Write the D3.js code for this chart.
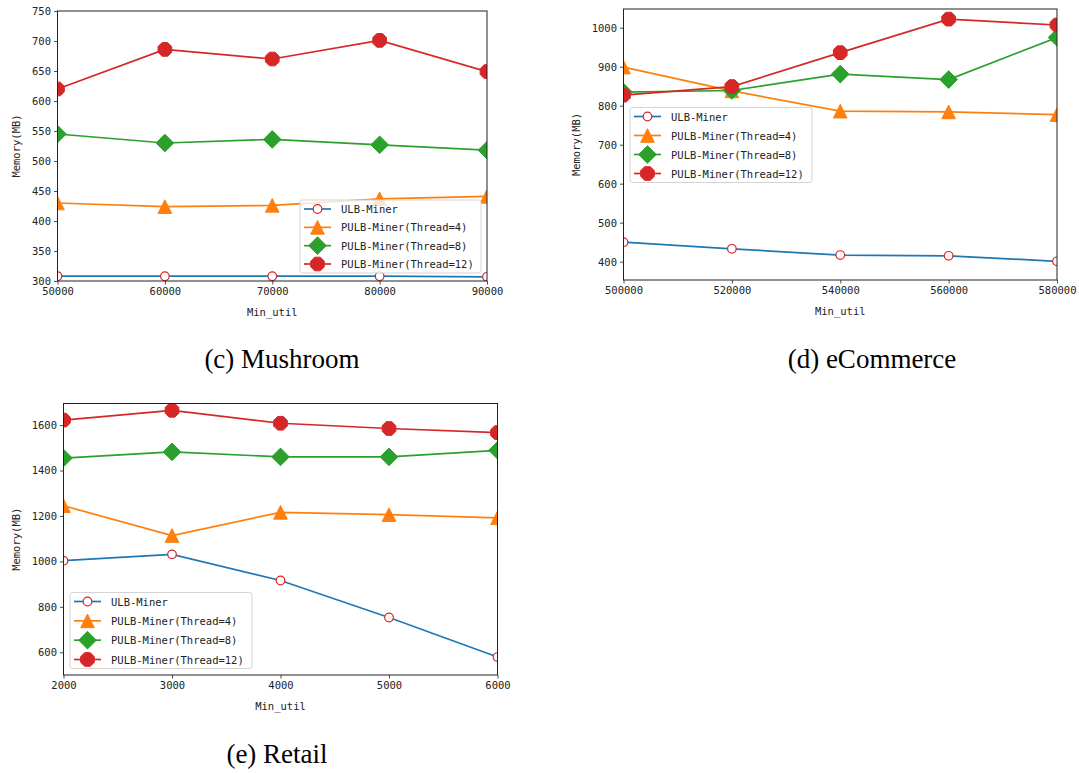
<!DOCTYPE html>
<html>
<head>
<meta charset="utf-8">
<script src="https://cdn.jsdelivr.net/npm/d3@7"></script>
<style>
  html, body { margin: 0; padding: 0; background: #fff; }
  svg { display: block; }
  .tick text { font-family: "DejaVu Sans Mono", monospace; font-size: 10.5px; fill: #222; }
  .axis-label { font-family: "DejaVu Sans Mono", monospace; font-size: 10.5px; fill: #222; }
  .legend-text { font-family: "DejaVu Sans Mono", monospace; font-size: 10.5px; fill: #222; }
  .caption { font-family: "Liberation Serif", "Times New Roman", serif; font-size: 27px; fill: #000; }
</style>
</head>
<body>
<svg id="chart" width="1079" height="773"></svg>
<script>
// Series shared by all three panels
const seriesNames = ["ULB-Miner", "PULB-Miner(Thread=4)", "PULB-Miner(Thread=8)", "PULB-Miner(Thread=12)"];
const lineColors = ["#1f77b4", "#ff7f0e", "#2ca02c", "#d62728"];
const markerKinds = ["circle", "triangle", "diamond", "octagon"];

// (c) Mushroom
const mushroomX = [50000, 60000, 70000, 80000, 90000];
const mushroomULB = [308, 308, 308, 308, 307];
const mushroomT4 = [430, 424, 426, 437, 441];
const mushroomT8 = [545, 530, 536, 527, 518];
const mushroomT12 = [620, 686, 670, 701, 649];
const mushroomYTicks = [300, 350, 400, 450, 500, 550, 600, 650, 700, 750];

// (d) eCommerce
const ecommerceX = [500000, 520000, 540000, 560000, 580000];
const ecommerceULB = [450, 433, 417, 415, 401];
const ecommerceT4 = [899, 838, 786, 784, 777];
const ecommerceT8 = [835, 839, 881, 867, 975];
const ecommerceT12 = [827, 849, 936, 1022, 1007];
const ecommerceYTicks = [400, 500, 600, 700, 800, 900, 1000];

// (e) Retail
const retailX = [2000, 3000, 4000, 5000, 6000];
const retailULB = [1003, 1031, 916, 753, 579];
const retailT4 = [1245, 1114, 1216, 1206, 1192];
const retailT8 = [1455, 1482, 1460, 1460, 1489];
const retailT12 = [1622, 1665, 1608, 1585, 1567];
const retailYTicks = [600, 800, 1000, 1200, 1400, 1600];

const panels = [
  {
    id: "c", caption: "(c) Mushroom",
    x: mushroomX, series: [mushroomULB, mushroomT4, mushroomT8, mushroomT12],
    yDomain: [300, 750], yTicks: mushroomYTicks,
    box: { left: 57.5, top: 11, right: 487, bottom: 281 },
    yLabelX: 17, xLabelY: 316,
    legend: { x: 300, y: 200, w: 181, h: 73 },
    captionPos: { x: 282, y: 368 }
  },
  {
    id: "d", caption: "(d) eCommerce",
    x: ecommerceX, series: [ecommerceULB, ecommerceT4, ecommerceT8, ecommerceT12],
    yDomain: [353, 1048], yTicks: ecommerceYTicks,
    box: { left: 623.5, top: 9, right: 1057, bottom: 280 },
    yLabelX: 577, xLabelY: 315,
    legend: { x: 630, y: 107.5, w: 182, h: 75 },
    captionPos: { x: 872, y: 368 }
  },
  {
    id: "e", caption: "(e) Retail",
    x: retailX, series: [retailULB, retailT4, retailT8, retailT12],
    yDomain: [500, 1695], yTicks: retailYTicks,
    box: { left: 63.5, top: 403.5, right: 497.5, bottom: 675 },
    yLabelX: 17, xLabelY: 710,
    legend: { x: 70, y: 592.5, w: 182, h: 76 },
    captionPos: { x: 277, y: 763 }
  }
];

// Marker shape paths centred on (0,0)
function markerPath(kind) {
  if (kind === "circle") {
    const r = 4.3;
    return `M${r},0A${r},${r} 0 1,1 ${-r},0A${r},${r} 0 1,1 ${r},0Z`;
  }
  if (kind === "triangle") {
    const s = 6.8;
    return `M0,${-s}L${s},${s}L${-s},${s}Z`;
  }
  if (kind === "diamond") {
    const s = 8.8;
    return `M0,${-s}L${s},0L0,${s}L${-s},0Z`;
  }
  // octagon
  const r = 7.4;
  const pts = d3.range(8).map(i => {
    const a = Math.PI / 8 + i * Math.PI / 4;
    return [r * Math.cos(a), r * Math.sin(a)];
  });
  return "M" + pts.map(p => p.join(",")).join("L") + "Z";
}

function markerStyle(sel, i) {
  if (markerKinds[i] === "circle") {
    sel.attr("fill", "#fff").attr("stroke", "#d62728").attr("stroke-width", 1.2);
  } else {
    sel.attr("fill", lineColors[i]).attr("stroke", lineColors[i]).attr("stroke-width", 1);
  }
}

const svg = d3.select("#chart");

panels.forEach(p => {
  const b = p.box;
  const xScale = d3.scaleLinear().domain(d3.extent(p.x)).range([b.left, b.right]);
  const yScale = d3.scaleLinear().domain(p.yDomain).range([b.bottom, b.top]);

  const g = svg.append("g");

  // clip region for the data
  const clipId = "clip-" + p.id;
  svg.append("defs").append("clipPath").attr("id", clipId)
    .append("rect")
    .attr("x", b.left).attr("y", b.top)
    .attr("width", b.right - b.left).attr("height", b.bottom - b.top);

  const data = g.append("g").attr("clip-path", `url(#${clipId})`);
  const line = d3.line().x((d, i) => xScale(p.x[i])).y(d => yScale(d));

  p.series.forEach((vals, si) => {
    data.append("path")
      .datum(vals)
      .attr("d", line)
      .attr("fill", "none")
      .attr("stroke", lineColors[si])
      .attr("stroke-width", 1.7);
    data.selectAll(null)
      .data(vals)
      .join("path")
      .attr("transform", (d, i) => `translate(${xScale(p.x[i])},${yScale(d)})`)
      .attr("d", markerPath(markerKinds[si]))
      .call(markerStyle, si);
  });

  // axes
  const xAxis = d3.axisBottom(xScale).tickValues(p.x).tickSize(3.5).tickPadding(3).tickFormat(d3.format("d"));
  const yAxis = d3.axisLeft(yScale).tickValues(p.yTicks).tickSize(3.5).tickPadding(3).tickFormat(d3.format("d"));

  const gx = g.append("g").attr("transform", `translate(0,${b.bottom})`).call(xAxis);
  const gy = g.append("g").attr("transform", `translate(${b.left},0)`).call(yAxis);
  [gx, gy].forEach(a => {
    a.select(".domain").remove();
    a.selectAll(".tick line").attr("stroke", "#222").attr("stroke-width", 0.8);
  });

  // frame
  g.append("rect")
    .attr("x", b.left).attr("y", b.top)
    .attr("width", b.right - b.left).attr("height", b.bottom - b.top)
    .attr("fill", "none").attr("stroke", "#222").attr("stroke-width", 1);

  // axis titles
  g.append("text").attr("class", "axis-label")
    .attr("x", (b.left + b.right) / 2).attr("y", p.xLabelY)
    .attr("text-anchor", "middle").text("Min_util");
  g.append("text").attr("class", "axis-label")
    .attr("transform", `translate(${p.yLabelX},${(b.top + b.bottom) / 2}) rotate(-90)`)
    .attr("text-anchor", "middle").attr("dominant-baseline", "middle").text("Memory(MB)");

  // legend
  const L = p.legend;
  const lg = g.append("g");
  lg.append("rect")
    .attr("x", L.x).attr("y", L.y).attr("width", L.w).attr("height", L.h)
    .attr("rx", 2.5)
    .attr("fill", "#fff").attr("fill-opacity", 0.8)
    .attr("stroke", "#d4d4d4").attr("stroke-width", 1);
  const rowH = (L.h - 18) / 3;
  seriesNames.forEach((name, si) => {
    const cy = L.y + 9 + si * rowH;
    lg.append("line")
      .attr("x1", L.x + 4).attr("x2", L.x + 31)
      .attr("y1", cy).attr("y2", cy)
      .attr("stroke", lineColors[si]).attr("stroke-width", 1.7);
    lg.append("path")
      .attr("transform", `translate(${L.x + 17.5},${cy})`)
      .attr("d", markerPath(markerKinds[si]))
      .call(markerStyle, si);
    lg.append("text").attr("class", "legend-text")
      .attr("x", L.x + 41).attr("y", cy)
      .attr("dominant-baseline", "central")
      .text(name);
  });

  // caption
  svg.append("text").attr("class", "caption")
    .attr("x", p.captionPos.x).attr("y", p.captionPos.y)
    .attr("text-anchor", "middle").text(p.caption);
});
</script>
</body>
</html>
